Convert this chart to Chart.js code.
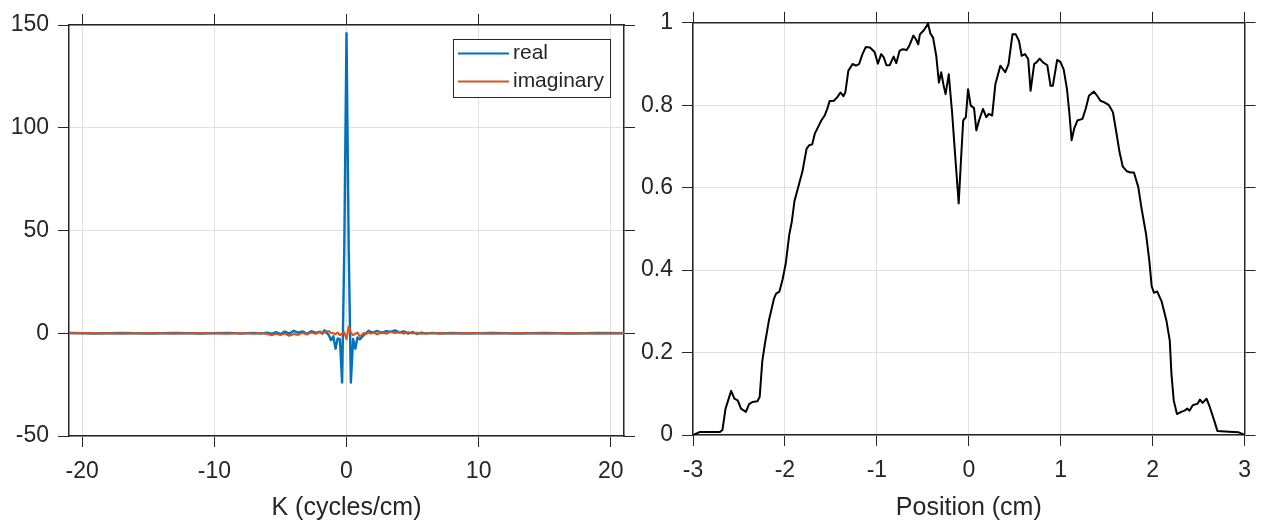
<!DOCTYPE html>
<html lang="en">
<head>
<meta charset="UTF-8">
<title>k-space and profile</title>
<script src="https://cdn.jsdelivr.net/npm/chart.js@4.4.1/dist/chart.umd.min.js"></script>
<style>
  body { margin: 0; background: #fff; }
  canvas { position: absolute; top: 0; }
  #kspace { left: 0; }
  #profile { left: 636px; }
</style>
</head>
<body>
<canvas id="kspace" width="636" height="520"></canvas>
<canvas id="profile" width="626" height="520"></canvas>
<script>
  // ---- left plot: spectrum (cycles/cm) ----
  var kVals = [-21, -19, -17, -15, -13, -11, -9, -8, -7, -6.5,
    -6, -5.67, -5.33, -5, -4.67, -4.33, -4, -3.67, -3.33, -3,
    -2.67, -2.33, -2, -1.83, -1.67, -1.5, -1.33, -1.17, -1, -0.83,
    -0.67, -0.5, -0.33, -0.17, 0, 0.17, 0.33, 0.5, 0.67, 0.83,
    1, 1.17, 1.33, 1.5, 1.67, 1.83, 2, 2.33, 2.67, 3,
    3.33, 3.67, 4, 4.33, 4.67, 5, 5.33, 5.67, 6, 6.5,
    7, 8, 9, 11, 13, 15, 17, 19, 21];
  var realVals = [0.1, -0.1, 0.1, -0.1, 0.1, -0.1, 0.2, -0.1, 0.2, -0.2,
    0.3, -0.3, 0.5, -0.4, 0.8, -0.2, 1.2, 0.3, 0.9, -0.3,
    1.0, 0.2, 0.8, -0.2, 1.4, 0.3, -1.0, -3.4, -1.5, -7.5,
    -2.5, -3.0, -24, 40, 146, 40, -24, -2.8, -7.5, -2.0,
    -3.0, -1.8, -0.8, 0.2, 1.2, 0.6, 0.3, 1.1, 0.2, 1.0,
    0.7, 1.4, 0.4, 0.9, -0.2, 0.5, -0.3, 0.3, -0.2, 0.2,
    -0.1, 0.1, -0.1, 0.1, -0.1, 0.1, -0.1, 0.1, 0];
  var imagVals = [0, 0.1, -0.1, 0.1, -0.1, 0.1, -0.2, 0.1, -0.3, 0.1,
    -0.4, -1.0, -0.3, -0.9, -0.2, -1.2, -0.4, -0.8, 0.2, -0.6,
    0.4, -0.3, 0.6, 0.2, 0.3, 1.0, 1.0, 0.2, 0, -0.5,
    0.4, -1.0, -0.2, 0.6, -3.0, 3.4, 0.2, -1.0, -0.2, 0.3,
    -1.5, -0.8, 0.2, -0.3, 0.5, -0.2, 0.4, -0.5, 0.6, -0.3,
    0.8, 0.1, 0.6, -0.2, 0.5, -0.1, 0.3, -0.2, 0.1, -0.1,
    0.1, -0.1, 0.1, -0.1, 0.1, -0.1, 0.1, -0.1, 0];
  var kTicks = [-20, -10, 0, 10, 20];
  var ampTicks = [-50, 0, 50, 100, 150];

  // ---- right plot: profile (cm) ----
  var posVals = [-3, -2.93, -2.71, -2.68, -2.646, -2.585, -2.55, -2.514, -2.478, -2.425,
    -2.39, -2.354, -2.3, -2.275, -2.246, -2.218, -2.175, -2.12, -2.096, -2.06,
    -2.025, -1.99, -1.953, -1.925, -1.896, -1.85, -1.81, -1.764, -1.735, -1.704,
    -1.675, -1.64, -1.604, -1.568, -1.54, -1.514, -1.468, -1.432, -1.396, -1.364,
    -1.343, -1.31, -1.264, -1.228, -1.193, -1.157, -1.121, -1.075, -1.025, -0.989,
    -0.953, -0.925, -0.896, -0.861, -0.818, -0.789, -0.753, -0.718, -0.675, -0.646,
    -0.603, -0.575, -0.55, -0.532, -0.489, -0.443, -0.418, -0.389, -0.354, -0.325,
    -0.3, -0.275, -0.253, -0.218, -0.182, -0.146, -0.11, -0.086, -0.061, -0.032,
    -0.008, 0.021, 0.057, 0.082, 0.111, 0.154, 0.19, 0.218, 0.254, 0.289,
    0.343, 0.396, 0.432, 0.475, 0.511, 0.546, 0.575, 0.611, 0.646, 0.672,
    0.711, 0.736, 0.771, 0.807, 0.854, 0.889, 0.914, 0.961, 0.996, 1.032,
    1.068, 1.093, 1.118, 1.146, 1.182, 1.236, 1.271, 1.307, 1.361, 1.396,
    1.432, 1.475, 1.521, 1.568, 1.604, 1.639, 1.675, 1.718, 1.761, 1.796,
    1.843, 1.879, 1.904, 1.929, 1.964, 1.989, 2.014, 2.05, 2.096, 2.15,
    2.186, 2.204, 2.229, 2.264, 2.311, 2.346, 2.375, 2.4, 2.436, 2.489,
    2.514, 2.543, 2.586, 2.621, 2.668, 2.704, 2.829, 2.936, 3];
  var profVals = [0, 0.007, 0.007, 0.012, 0.064, 0.107, 0.088, 0.084, 0.064, 0.056,
    0.075, 0.08, 0.082, 0.092, 0.18, 0.221, 0.277, 0.33, 0.343, 0.348,
    0.378, 0.418, 0.486, 0.518, 0.568, 0.606, 0.639, 0.695, 0.703, 0.705,
    0.731, 0.747, 0.763, 0.775, 0.791, 0.81, 0.811, 0.819, 0.831, 0.822,
    0.831, 0.884, 0.9, 0.896, 0.9, 0.924, 0.941, 0.94, 0.929, 0.901,
    0.924, 0.916, 0.897, 0.897, 0.918, 0.902, 0.932, 0.936, 0.934, 0.945,
    0.969, 0.96, 0.948, 0.972, 0.982, 0.998, 0.974, 0.964, 0.92, 0.855,
    0.88, 0.849, 0.827, 0.875, 0.783, 0.671, 0.562, 0.663, 0.763, 0.771,
    0.839, 0.799, 0.793, 0.739, 0.763, 0.791, 0.771, 0.779, 0.775, 0.851,
    0.896, 0.88, 0.9, 0.972, 0.972, 0.956, 0.92, 0.924, 0.912, 0.835,
    0.9, 0.904, 0.913, 0.904, 0.897, 0.847, 0.847, 0.91, 0.905, 0.887,
    0.839, 0.783, 0.715, 0.743, 0.763, 0.767, 0.791, 0.823, 0.833, 0.823,
    0.811, 0.807, 0.801, 0.783, 0.735, 0.687, 0.651, 0.64, 0.637, 0.637,
    0.602, 0.55, 0.518, 0.486, 0.422, 0.361, 0.345, 0.348, 0.325, 0.277,
    0.229, 0.149, 0.084, 0.051, 0.056, 0.059, 0.064, 0.059, 0.072, 0.076,
    0.086, 0.078, 0.088, 0.068, 0.036, 0.01, 0.008, 0.0065, 0];
  var posTicks = [-3, -2, -1, 0, 1, 2, 3];
  var profTicks = [0, 0.2, 0.4, 0.6, 0.8, 1];

  var axisColor = '#262626';
  var gridColor = '#e0e0e0';
  var fontFamily = '"Liberation Sans", Arial, Helvetica, sans-serif';

  function pairs(xs, ys) {
    return xs.map(function (x, i) { return {x: x, y: ys[i]}; });
  }
  function fixTicks(list) {
    return function (scale) { scale.ticks = list.map(function (v) { return {value: v}; }); };
  }
  function fixSize(size) {
    return function (scale) {
      if (scale.isHorizontal()) scale.height = size; else scale.width = size;
    };
  }
  // axis with labels
  function mainAxis(pos, min, max, ticks, size, title) {
    var horiz = pos === 'bottom';
    return {
      type: 'linear', position: pos, min: min, max: max,
      afterBuildTicks: fixTicks(ticks),
      afterFit: fixSize(size),
      grid: {color: gridColor, tickColor: axisColor, tickLength: 11, lineWidth: 1},
      border: {color: axisColor, width: 1.5},
      ticks: {color: axisColor, font: {family: fontFamily, size: 23}, padding: horiz ? 11 : 9, maxRotation: 0,
        callback: function (v) { return String(v); }},
      title: title ? {display: true, text: title, color: axisColor,
        font: {family: fontFamily, size: 25, lineHeight: 1}, padding: {top: 0, bottom: -1}} : {display: false}
    };
  }
  // top / right side of the box: tick marks only
  function boxAxis(pos, min, max, ticks, size) {
    return {
      type: 'linear', position: pos, min: min, max: max,
      afterBuildTicks: fixTicks(ticks),
      afterFit: fixSize(size),
      grid: {drawOnChartArea: false, tickColor: axisColor, tickLength: 11},
      border: {color: axisColor, width: 1.5},
      ticks: {display: false}
    };
  }

  // legend box drawn inside the plot area, top right
  var insideLegend = {
    id: 'insideLegend',
    afterDatasetsDraw: function (chart) {
      var ctx = chart.ctx, a = chart.chartArea, sets = chart.data.datasets;
      ctx.save();
      ctx.font = '21px ' + fontFamily;
      var textW = Math.max.apply(null, sets.map(function (d) { return ctx.measureText(d.label).width; }));
      var rowH = 28, lineLen = 51;
      var w = 5 + lineLen + 4 + textW + 6, h = sets.length * rowH + 2;
      var left = a.right - 14 - w, top = a.top + 14;
      ctx.fillStyle = '#fff';
      ctx.fillRect(left, top, w, h);
      ctx.strokeStyle = axisColor;
      ctx.lineWidth = 1;
      ctx.strokeRect(Math.round(left) + 0.5, top + 0.5, Math.round(w), h);
      sets.forEach(function (d, i) {
        var y = top + 14.5 + i * rowH;
        ctx.strokeStyle = d.borderColor;
        ctx.lineWidth = 2;
        ctx.beginPath();
        ctx.moveTo(left + 5, y);
        ctx.lineTo(left + 5 + lineLen, y);
        ctx.stroke();
        ctx.fillStyle = axisColor;
        ctx.textBaseline = 'middle';
        ctx.fillText(d.label, left + 5 + lineLen + 4, y);
      });
      ctx.restore();
    }
  };

  var common = {
    responsive: false, animation: false, devicePixelRatio: 1,
    layout: {padding: 0},
    elements: {line: {tension: 0, borderWidth: 2, borderJoinStyle: 'round'}, point: {radius: 0}},
    plugins: {legend: {display: false}, tooltip: {enabled: false}}
  };

  new Chart(document.getElementById('kspace'), {
    type: 'line',
    data: {
      datasets: [
        {label: 'real', data: pairs(kVals, realVals), borderColor: '#0072bd', borderWidth: 2.4, order: 2},
        {label: 'imaginary', data: pairs(kVals, imagVals), borderColor: '#d95319', order: 1}
      ]
    },
    options: Object.assign({}, common, {
      scales: {
        x: mainAxis('bottom', -21, 21, kTicks, 84, 'K (cycles/cm)'),
        y: mainAxis('left', -50, 150, ampTicks, 69),
        x2: boxAxis('top', -21, 21, kTicks, 25),
        y2: boxAxis('right', -50, 150, ampTicks, 12)
      }
    }),
    plugins: [insideLegend]
  });

  new Chart(document.getElementById('profile'), {
    type: 'line',
    data: {
      datasets: [
        {label: 'profile', data: pairs(posVals, profVals), borderColor: '#000000'}
      ]
    },
    options: Object.assign({}, common, {
      scales: {
        x: mainAxis('bottom', -3, 3, posTicks, 85, 'Position (cm)'),
        y: mainAxis('left', 0, 1, profTicks, 57),
        x2: boxAxis('top', -3, 3, posTicks, 20),
        y2: boxAxis('right', 0, 1, profTicks, 9)
      }
    })
  });
</script>
</body>
</html>
